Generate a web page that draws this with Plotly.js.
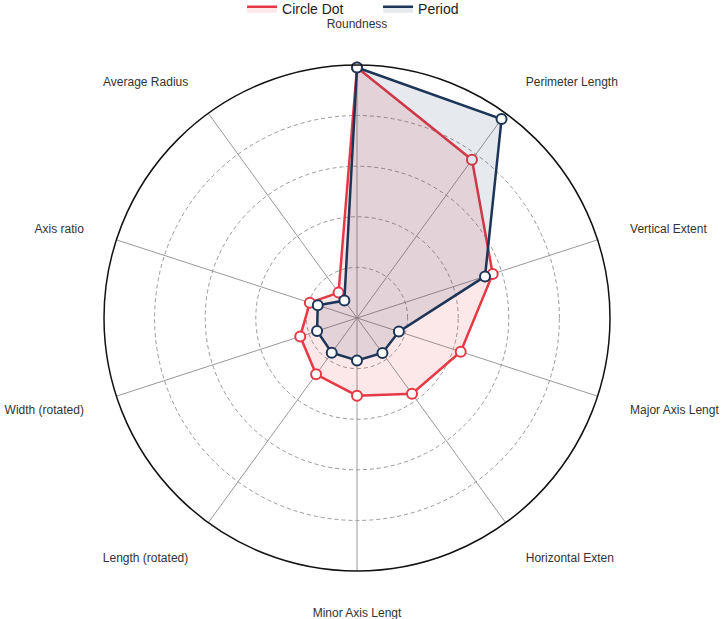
<!DOCTYPE html>
<html>
<head>
<meta charset="utf-8">
<script src="https://cdn.plot.ly/plotly-3.0.1.min.js"></script>
<style>html,body{margin:0;padding:0;background:#fff;}#chart{width:724px;height:619px;}</style>
</head>
<body>
<div id="chart"></div>
<script>
var categories = ["Roundness", "Perimeter Length", "Vertical Extent", "Major Axis Lengt", "Horizontal Exten", "Minor Axis Lengt", "Length (rotated)", "Width (rotated)", "Axis ratio", "Average Radius"];
var circleDot = [0.99, 0.773, 0.564, 0.431, 0.370, 0.307, 0.275, 0.236, 0.196, 0.124];
var period = [0.99, 0.972, 0.532, 0.174, 0.171, 0.168, 0.170, 0.166, 0.163, 0.085];
var seriesNames = ["Circle Dot", "Period"];

function closed(a) { return a.concat([a[0]]); }

var colors = ["#e63946", "#1d3557"];
var fills = ["rgba(230,57,70,0.12)", "rgba(29,53,87,0.11)"];
var seriesVals = [circleDot, period];

var data = [];
seriesVals.forEach(function (vals, i) {
  data.push({
    type: "scatterpolar",
    name: seriesNames[i],
    legendgroup: seriesNames[i],
    r: closed(vals),
    theta: closed(categories),
    mode: "lines",
    fill: "toself",
    fillcolor: fills[i],
    line: { color: colors[i], width: 2.5 }
  });
  data.push({
    type: "scatterpolar",
    name: seriesNames[i],
    legendgroup: seriesNames[i],
    showlegend: false,
    r: vals,
    theta: categories,
    mode: "markers",
    marker: { size: 10, color: "#ffffff", line: { color: colors[i], width: 2 } }
  });
});

var layout = {
  width: 724,
  height: 619,
  margin: { l: 80, r: 90, t: 65, b: 48, autoexpand: false },
  paper_bgcolor: "#ffffff",
  font: { family: "Liberation Sans, Arial, sans-serif", color: "#333333" },
  showlegend: true,
  legend: {
    orientation: "h",
    x: 0.538, xanchor: "center",
    y: 1.142, yanchor: "top",
    entrywidth: 91,
    bgcolor: "rgba(0,0,0,0)",
    font: { size: 14, color: "#222222" }
  },
  polar: {
    bgcolor: "#ffffff",
    radialaxis: {
      range: [0, 1],
      dtick: 0.2,
      showticklabels: false,
      ticks: "",
      showline: false,
      gridcolor: "#999999",
      griddash: "4px,3px",
      gridwidth: 1
    },
    angularaxis: {
      direction: "clockwise",
      rotation: 90,
      gridcolor: "#999999",
      gridwidth: 1,
      linecolor: "#111111",
      linewidth: 1.5,
      ticks: "outside",
      ticklen: 31,
      tickcolor: "rgba(0,0,0,0)",
      tickfont: { size: 12, color: "#333333" }
    }
  }
};

Plotly.newPlot("chart", data, layout, { displayModeBar: false });
</script>
</body>
</html>
